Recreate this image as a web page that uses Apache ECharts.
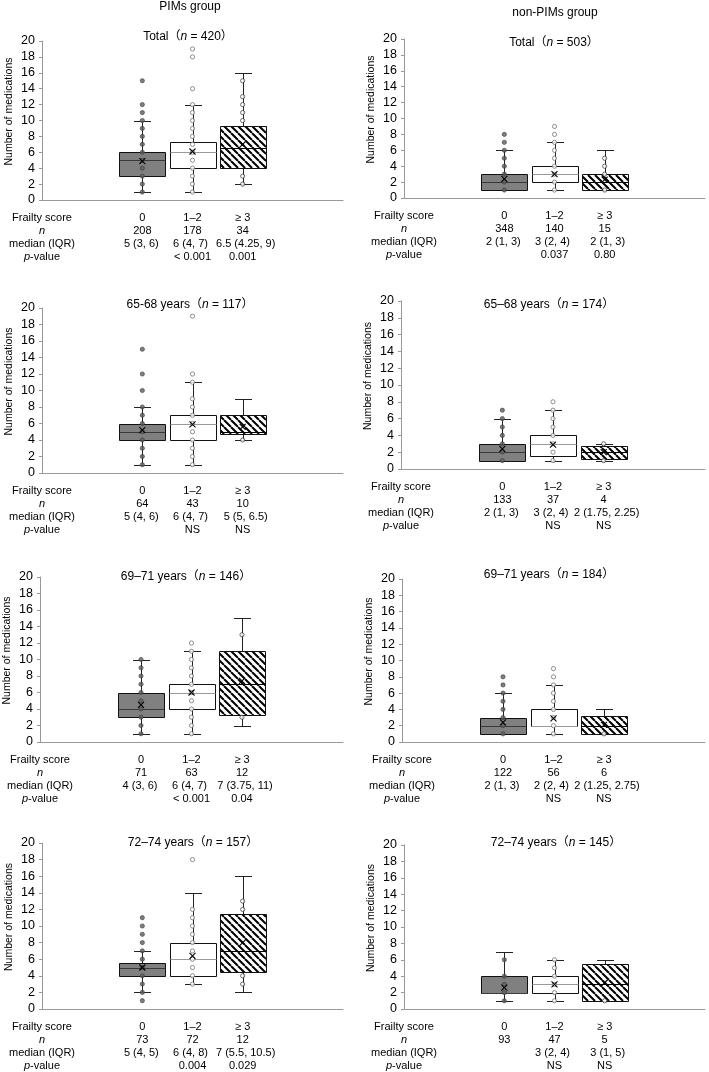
<!DOCTYPE html>
<html><head><meta charset="utf-8">
<script src="https://cdn.jsdelivr.net/npm/echarts@6/dist/echarts.min.js"></script>
<style>html,body{margin:0;padding:0;background:#fff}#c{width:709px;height:1072px}</style>
</head><body><div id="c"></div>
<script>
// ---------------- data ----------------
const frailtyLabels = ['0', '1–2', '≥ 3'];
const rowHeads = ['Frailty score', 'n', 'median (IQR)', 'p-value'];
const groupTitles = ['PIMs group', 'non-PIMs group'];
const panelNames = ['Total', 'Total', '65-68 years', '65–68 years', '69–71 years', '69–71 years', '72–74 years', '72–74 years'];
const panelN = [420, 503, 117, 174, 146, 184, 157, 145];
const nValues = [[208,178,34],[348,140,15],[64,43,10],[133,37,4],[71,63,12],[122,56,6],[73,72,12],[93,47,5]];
const medianIQR = [
  ['5 (3, 6)','6 (4, 7)','6.5 (4.25, 9)'],
  ['2 (1, 3)','3 (2, 4)','2 (1, 3)'],
  ['5 (4, 6)','6 (4, 7)','5 (5, 6.5)'],
  ['2 (1, 3)','3 (2, 4)','2 (1.75, 2.25)'],
  ['4 (3, 6)','6 (4, 7)','7 (3.75, 11)'],
  ['2 (1, 3)','2 (2, 4)','2 (1.25, 2.75)'],
  ['5 (4, 5)','6 (4, 8)','7 (5.5, 10.5)'],
  ['','3 (2, 4)','3 (1, 5)']
];
const pValues = [
  ['','< 0.001','0.001'],['','0.037','0.80'],['','NS','NS'],['','NS','NS'],
  ['','< 0.001','0.04'],['','NS','NS'],['','0.004','0.029'],['','NS','NS']
];
// [whisker min, Q1, median, Q3, whisker max]
const boxStats = [
  [[1,3,5,6,10],[1,4,6,7.25,12],[2,4,6.5,9.25,16]],
  [[1,1,2,3,6],[1,2,3,4,7],[1,1,2,3,6]],
  [[1,4,5,6,8],[1,4,6,7,11],[4,4.75,5,7,9]],
  [[1,1,2,3,6],[1,1.5,3,4,7],[1,1.25,2,2.75,3]],
  [[1,3,4,6,10],[1,4,6,7,11],[2,3.25,7,11,15]],
  [[1,1,2,3,6],[1,2,2,4,7],[1,1,2,3.25,4]],
  [[2,4,5,5.5,7],[3,4,6,8,14],[2,4.5,7,11.5,16]],
  [[1,2,2,4,7],[1,2,3,4,6],[1,1,3,5.5,6]]
];
const means = [[4.9,6.1,7.0],[2.4,3.0,2.3],[5.2,5.9,5.6],[2.4,2.9,2.0],[4.5,6.0,7.4],[2.4,2.9,2.1],[5.0,6.4,8.0],[2.6,3.0,3.2]];
const dots = [
  [[1,2,3,4,5,6,7,8,9,10,11,12,15],[1,2,3,4,5,6,7,8,9,10,11,12,14,18,19],[2,3,10,11,12,13,15]],
  [[1,2,3,4,5,6,7,8],[1,2,3,4,5,6,7,8,9],[1,3,4,5]],
  [[1,2,3,4,5,6,7,8,10,12,15],[1,2,3,4,5,6,7,8,9,11,12,19],[4]],
  [[1,2,3,4,5,6,7],[1,2,3,4,5,6,7,8],[1,3]],
  [[1,2,3,4,5,6,7,8,9,10],[1,2,3,4,5,6,7,8,9,10,11,12],[3,13]],
  [[1,2,3,4,5,6,7,8],[1,2,3,4,5,6,7,8,9],[1]],
  [[1,2,3,4,5,6,7,8,9,10,11],[3,4,5,6,7,8,9,10,11,12,18],[3,4,12,13]],
  [[1,2,3,4,6],[1,2,3,4,5,6],[1]]
];
const yTicks = {min: 0, max: 20, interval: 2};

// ---------------- layout ----------------
const grids = [
  {left:42, top:41, width:301, height:159},
  {left:404, top:39, width:301, height:159},
  {left:42, top:308, width:301, height:165},
  {left:401, top:301, width:304, height:168},
  {left:40, top:577, width:303, height:165},
  {left:402, top:579, width:303, height:163},
  {left:42, top:843, width:301, height:166},
  {left:404, top:845, width:301, height:164}
];
const titlePos = [[188,37],[554,43],[190,305],[549,305],[186,577],[549,575],[193,843],[556,843]];
const groupPos = [[190,7],[555,13]];
const catIdx = [2,3,4];
const medStyle = ['m0', 'm1', 'm2'];
const FF = '"Liberation Sans", Arial, "Noto Sans CJK SC", sans-serif';
const AX = '#999999';

function makeHatch(){
  const s = 7; const c = document.createElement('canvas'); c.width = s; c.height = s;
  const g = c.getContext('2d'); g.fillStyle = '#fff'; g.fillRect(0,0,s,s);
  g.strokeStyle = '#000'; g.lineWidth = 2;
  g.beginPath();
  for (const k of [-s, 0, s]) { g.moveTo(k, 0); g.lineTo(k + s, s); }
  g.stroke();
  return c;
}
const hatch = makeHatch();

const chart = echarts.init(document.getElementById('c'), null, {renderer:'canvas'});
const option = {
  animation:false, backgroundColor:'#fff',
  grid: grids.map(g => Object.assign({containLabel:false}, g)),
  xAxis: [], yAxis: [], series: [], graphic: []
};
const base = {fontSize:11, lineHeight:13, fontFamily:FF, color:'#000'};

grids.forEach((g, p) => {
  option.xAxis.push({
    type:'category', gridIndex:p, boundaryGap:false,
    data:['0','1','2','3','4','5','6'],
    axisLine:{show:true, lineStyle:{color:AX, width:1}},
    axisTick:{show:false}, splitLine:{show:false},
    axisLabel:{
      interval:0, margin:11, fontSize:11, lineHeight:13, color:'#000', fontFamily:FF,
      formatter:(v, i) => {
        if (i === 0) return rowHeads[0] + '\n{i|' + rowHeads[1] + '}\n' + rowHeads[2] + '\n{i|p}' + rowHeads[3].slice(1);
        const k = catIdx.indexOf(i);
        if (k < 0) return '';
        const med = medianIQR[p][k] ? '{' + medStyle[k] + '|' + medianIQR[p][k] + '}' : '';
        return frailtyLabels[k] + '\n' + nValues[p][k] + '\n' + med + '\n' + pValues[p][k];
      },
      rich:{
        i:Object.assign({fontStyle:'italic'}, base),
        m0:Object.assign({padding:[0,2,0,0]}, base),
        m1:Object.assign({padding:[0,4,0,0]}, base),
        m2:Object.assign({padding:[0,0,0,6]}, base)
      }
    }
  });
  option.yAxis.push({
    type:'value', gridIndex:p, min:yTicks.min, max:yTicks.max, interval:yTicks.interval,
    axisLine:{show:true, lineStyle:{color:AX, width:1}},
    axisTick:{show:true, length:3, lineStyle:{color:AX}},
    splitLine:{show:false},
    axisLabel:{fontSize:12.5, color:'#000', margin:7, fontFamily:FF},
    name:'Number of medications', nameLocation:'middle', nameGap:28,
    nameTextStyle:{fontSize:10.5, color:'#000', fontFamily:FF, padding:[0,0,0,18]}
  });

  // boxes
  option.series.push({
    type:'custom', xAxisIndex:p, yAxisIndex:p, z:2, silent:true,
    data: boxStats[p].map((b, k) => [catIdx[k], b[0], b[1], b[2], b[3], b[4], k]),
    renderItem:(params, api) => {
      const x = api.value(0), type = api.value(6);
      const c = (v) => api.coord([x, v]);
      const pMin = c(api.value(1)), pQ1 = c(api.value(2)), pMed = c(api.value(3)), pQ3 = c(api.value(4)), pMax = c(api.value(5));
      const cx = Math.round(pMin[0]) + 0.5, hw = 23, cw = 8.5;
      const r = (y) => Math.round(y) + 0.5;
      const fill = type === 0 ? '#808080' : type === 1 ? '#ffffff' : {image: hatch, repeat:'repeat'};
      const medColor = type === 0 ? '#3a3a3a' : type === 1 ? '#9a9a9a' : '#000';
      const ln = (x1,y1,x2,y2,col,w) => ({type:'line', shape:{x1,y1,x2,y2}, style:{stroke:col, lineWidth:w||1}});
      return {type:'group', children:[
        ln(cx, r(pMin[1]), cx, r(pQ1[1]), '#222'),
        ln(cx, r(pQ3[1]), cx, r(pMax[1]), '#222'),
        ln(cx-cw, r(pMin[1]), cx+cw, r(pMin[1]), '#222'),
        ln(cx-cw, r(pMax[1]), cx+cw, r(pMax[1]), '#222'),
        {type:'rect', shape:{x:cx-hw, y:r(pQ3[1]), width:2*hw, height:r(pQ1[1]) - r(pQ3[1])},
          style:{fill:fill, stroke:'#111', lineWidth:1}},
        ln(cx-hw, r(pMed[1]), cx+hw, r(pMed[1]), medColor, 1.2)
      ]};
    }
  });

  // individual points
  const dotData = [];
  dots[p].forEach((arr, k) => arr.forEach(v => {
    dotData.push({value:[catIdx[k], v], itemStyle: k === 0
      ? {color:'#5f5f5f', borderColor:'#3c3c3c', borderWidth:0.8}
      : {color:'#ffffff', borderColor: k === 1 ? '#666' : '#333', borderWidth:0.9}});
  }));
  option.series.push({
    type:'scatter', xAxisIndex:p, yAxisIndex:p, z:3, silent:true,
    symbol:'circle', symbolSize:4.2, data:dotData
  });

  // means
  option.series.push({
    type:'custom', xAxisIndex:p, yAxisIndex:p, z:4, silent:true,
    data: means[p].map((m, k) => [catIdx[k], m]),
    renderItem:(params, api) => {
      const pt = api.coord([api.value(0), api.value(1)]);
      const s = 3;
      return {type:'group', children:[
        {type:'line', shape:{x1:pt[0]-s, y1:pt[1]-s, x2:pt[0]+s, y2:pt[1]+s}, style:{stroke:'#000', lineWidth:1.1}},
        {type:'line', shape:{x1:pt[0]-s, y1:pt[1]+s, x2:pt[0]+s, y2:pt[1]-s}, style:{stroke:'#000', lineWidth:1.1}}
      ]};
    }
  });

  option.graphic.push({
    type:'text', x:titlePos[p][0], y:titlePos[p][1], silent:true,
    style:{text: panelNames[p] + '（{i|n} = ' + panelN[p] + '）', fontSize:12, fontFamily:FF, fill:'#000',
      align:'center', verticalAlign:'middle',
      rich:{i:{fontStyle:'italic', fontSize:12, fontFamily:FF, fill:'#000'}}}
  });
});

groupTitles.forEach((t, i) => option.graphic.push({
  type:'text', x:groupPos[i][0], y:groupPos[i][1], silent:true,
  style:{text:t, fontSize:12, fontFamily:FF, fill:'#000', align:'center', verticalAlign:'middle'}
}));

chart.setOption(option);
</script>
</body></html>
